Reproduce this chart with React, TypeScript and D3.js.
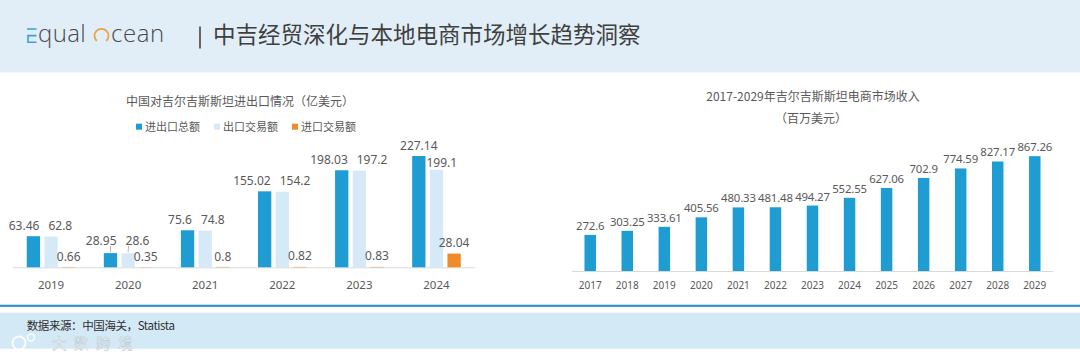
import { useMemo } from "react"
import * as d3 from "d3"

// left chart: China - Kyrgyzstan trade (亿美元)
const tradeYears = ["2019", "2020", "2021", "2022", "2023", "2024"]
const totalTrade = [63.46, 28.95, 75.6, 155.02, 198.03, 227.14]
const exportTrade = [62.8, 28.6, 74.8, 154.2, 197.2, 199.1]
const importTrade = [0.66, 0.35, 0.8, 0.82, 0.83, 28.04]
const tradeSeries = ["进出口总额", "出口交易额", "进口交易额"]

// right chart: Kyrgyzstan e-commerce revenue (百万美元)
const ecomYears = ["2017", "2018", "2019", "2020", "2021", "2022", "2023", "2024", "2025", "2026", "2027", "2028", "2029"]
const ecomRevenue = [272.6, 303.25, 333.61, 405.56, 480.33, 481.48, 494.27, 552.55, 627.06, 702.9, 774.59, 827.17, 867.26]

const W = 1080
const H = 362
const BLUE = "#1f9dd3"
const LIGHT = "#d5eaf6"
const ORANGE = "#f08a2b"
const TXT = "#595959"
const NUM_FONT = "'Noto Sans', 'Noto Sans CJK SC', sans-serif"
const CJK_FONT = "'Noto Sans CJK SC', 'Noto Sans', sans-serif"

let ctx: CanvasRenderingContext2D | null = null
function textWidth(s: string, size: number) {
  if (!ctx) ctx = document.createElement("canvas").getContext("2d")
  if (!ctx) return s.length * size * 0.57
  ctx.font = `${size}px "Noto Sans"`
  return ctx.measureText(s).width
}

interface Label {
  text: string
  x: number
  y: number // vertical centre
  w: number
  h: number
  barX: number
  barTop: number
  raised: boolean
}

export default function App() {
  // ---- left chart scales
  const baseL = 267.3
  const xL = d3.scaleBand().domain(tradeYears).range([12.5, 475]).paddingInner(0).paddingOuter(0)
  const yL = d3.scaleLinear().domain([0, 250]).range([baseL, baseL - 122.5])
  const sub = d3.scaleBand().domain(["0", "1", "2"]).range([-24.3, 24.3]).paddingInner(0.245).paddingOuter(0)

  // ---- right chart scales
  const baseR = 271
  const xR = d3.scaleBand().domain(ecomYears).range([571.7, 1053.3]).paddingInner(0.69).paddingOuter(0.345)
  const yR = d3.scaleLinear().domain([0, 1000]).range([baseR, baseR - 132.4])

  const groups = useMemo(() => {
    return tradeYears.map((yr, i) => {
      const cx = (xL(yr) ?? 0) + xL.bandwidth() / 2
      const vals = [totalTrade[i], exportTrade[i], importTrade[i]]
      const bars = vals.map((v, k) => ({
        x: cx + (sub(String(k)) ?? 0),
        w: sub.bandwidth(),
        top: yL(v),
        v,
        color: [BLUE, LIGHT, ORANGE][k],
      }))
      const labels: Label[] = bars.map((b) => {
        const text = String(b.v)
        return {
          text,
          x: b.x + b.w / 2,
          y: b.top - 10.7,
          w: textWidth(text, 12),
          h: 13,
          barX: b.x + b.w / 2,
          barTop: b.top,
          raised: false,
        }
      })
      const [lt, le, lm] = labels
      const overlapX = (a: Label, b: Label, pad: number) => Math.abs(a.x - b.x) < (a.w + b.w) / 2 + pad
      const overlapY = (a: Label, b: Label, pad: number) => Math.abs(a.y - b.y) < (a.h + b.h) / 2 + pad
      // export label against import label: lift it
      if (overlapX(le, lm, 0) && overlapY(le, lm, 3)) {
        le.y = Math.min(le.y, lm.y - (le.h + lm.h) / 2 - 3)
        le.raised = true
      }
      if (overlapX(lt, le, 9) && overlapY(lt, le, 4)) {
        if (le.y - lt.y > 9) {
          // clearly lower: drop the export label a little, clear of the total bar
          le.y = lt.y + (lt.h + le.h) / 2 + 4
          le.x = Math.max(le.x, bars[0].x + bars[0].w + 1 + le.w / 2)
        } else {
          // same height: spread sideways
          const y = Math.min(lt.y, le.y)
          if (y < lt.y - 0.5) lt.raised = true
          lt.y = le.y = y
          const need = (lt.w + le.w) / 2 + 9 - (le.x - lt.x)
          lt.x -= need / 2
          le.x += need / 2
        }
      }
      return { yr, cx, bars, labels }
    })
  }, [])

  const legendItems = useMemo(() => {
    let x = 136
    return tradeSeries.map((name, k) => {
      const item = { name, x, color: [BLUE, LIGHT, ORANGE][k] }
      x += 6 + 3 + name.length * 11 + 14
      return item
    })
  }, [])

  const logoArc = d3.arc()({ innerRadius: 7, outerRadius: 7, startAngle: -2.4, endAngle: 2.4 }) ?? ""

  return (
    <svg width={W} height={H} style={{ position: "absolute", left: 0, top: 0, background: "#fff" }}>
      {/* header */}
      <rect x={0} y={0} width={W} height={72.5} fill="#e1eef8" />
      <g>
        <path d="M27,29 H36.5 M36.5,35.6 H28 V42.2 H36.5" fill="none" stroke="#3aa0d8" strokeWidth={1.6} />
        <text x={38} y={42.3} fontFamily="'Open Sans', sans-serif" fontWeight={300} fontSize={24} fill="#4a4a4a" letterSpacing={0.4}>
          qual
        </text>
        <path d={logoArc} transform="translate(101.5,35.8)" fill="none" stroke="#f0a04b" strokeWidth={1.8} />
        <text x={111} y={42.3} fontFamily="'Open Sans', sans-serif" fontWeight={300} fontSize={24} fill="#4a4a4a" letterSpacing={0.6}>
          cean
        </text>
        <line x1={200} x2={200} y1={26.5} y2={48.5} stroke="#444" strokeWidth={1.6} />
        <text x={213} y={43.3} fontFamily={CJK_FONT} fontSize={22.5} fill="#3f3f3f">
          中吉经贸深化与本地电商市场增长趋势洞察
        </text>
      </g>

      {/* left chart */}
      <text x={240} y={105.5} textAnchor="middle" fontFamily={CJK_FONT} fontSize={12} fill={TXT}>
        中国对吉尔吉斯斯坦进出口情况（亿美元）
      </text>
      {legendItems.map((d) => (
        <g key={d.name}>
          <rect x={d.x} y={123.7} width={6} height={6} fill={d.color} />
          <text x={d.x + 9} y={131} fontFamily={CJK_FONT} fontSize={11} fill={TXT}>
            {d.name}
          </text>
        </g>
      ))}
      <line x1={12.5} x2={475} y1={baseL + 0.5} y2={baseL + 0.5} stroke="#d9d9d9" strokeWidth={1} />
      {groups.map((g) => (
        <g key={g.yr}>
          {g.bars.map((b, k) => (
            <rect key={k} x={b.x} y={b.top} width={b.w} height={baseL - b.top} fill={b.color} />
          ))}
          {g.labels.map((l, k) =>
            l.raised ? (
              <line
                key={"ld" + k}
                x1={l.barX}
                y1={l.barTop - 1}
                x2={Math.max(l.x - l.w / 2 + 3, Math.min(l.barX, l.x + l.w / 2 - 3))}
                y2={l.y + 5.5}
                stroke="#a6a6a6"
                strokeWidth={0.8}
              />
            ) : null
          )}
          {g.labels.map((l, k) => (
            <text key={k} x={l.x} y={l.y + 4.3} textAnchor="middle" fontFamily={NUM_FONT} fontSize={12} fill={TXT}>
              {l.text}
            </text>
          ))}
          <text x={g.cx} y={289.3} textAnchor="middle" fontFamily={NUM_FONT} fontSize={11.5} fill={TXT}>
            {g.yr}
          </text>
        </g>
      ))}

      {/* right chart */}
      <text x={813} y={101.3} textAnchor="middle" fontFamily={CJK_FONT} fontSize={12} fill={TXT}>
        2017-2029年吉尔吉斯斯坦电商市场收入
      </text>
      <text x={811} y={123} textAnchor="middle" fontFamily={CJK_FONT} fontSize={12} fill={TXT}>
        （百万美元）
      </text>
      <line x1={571.7} x2={1053.3} y1={baseR + 0.5} y2={baseR + 0.5} stroke="#d9d9d9" strokeWidth={1} />
      {ecomYears.map((yr, i) => {
        const x = xR(yr) ?? 0
        const cx = x + xR.bandwidth() / 2
        const top = yR(ecomRevenue[i])
        return (
          <g key={yr}>
            <rect x={x} y={top} width={xR.bandwidth()} height={baseR - top} fill={BLUE} />
            <text x={cx} y={top - 5} textAnchor="middle" fontFamily={NUM_FONT} fontSize={11.4} letterSpacing={-0.15} fill={TXT}>
              {ecomRevenue[i]}
            </text>
            <text x={cx} y={288.6} textAnchor="middle" fontFamily={NUM_FONT} fontSize={10} fill={TXT}>
              {yr}
            </text>
          </g>
        )
      })}

      {/* footer */}
      <rect x={0} y={304.7} width={W} height={2.2} fill="#3393c4" />
      <rect x={0} y={312.7} width={W} height={36} fill="#d3e9f5" />
      <text x={26.7} y={329.8} fontFamily={CJK_FONT} fontSize={11.5} fill="#2f2f2f" letterSpacing={-0.4}>
        数据来源：中国海关，Statista
      </text>
      <g opacity={0.9}>
        <circle cx={19} cy={343} r={6.5} fill="none" stroke="#fff" strokeWidth={2} />
        <circle cx={31} cy={337.5} r={3.5} fill="none" stroke="#fff" strokeWidth={1.5} />
        <text x={52} y={349} fontFamily={CJK_FONT} fontSize={14.5} letterSpacing={7.5} fill="#fff" stroke="#b9c8d1" strokeWidth={0.5}>
          大数跨境
        </text>
      </g>
    </svg>
  )
}
